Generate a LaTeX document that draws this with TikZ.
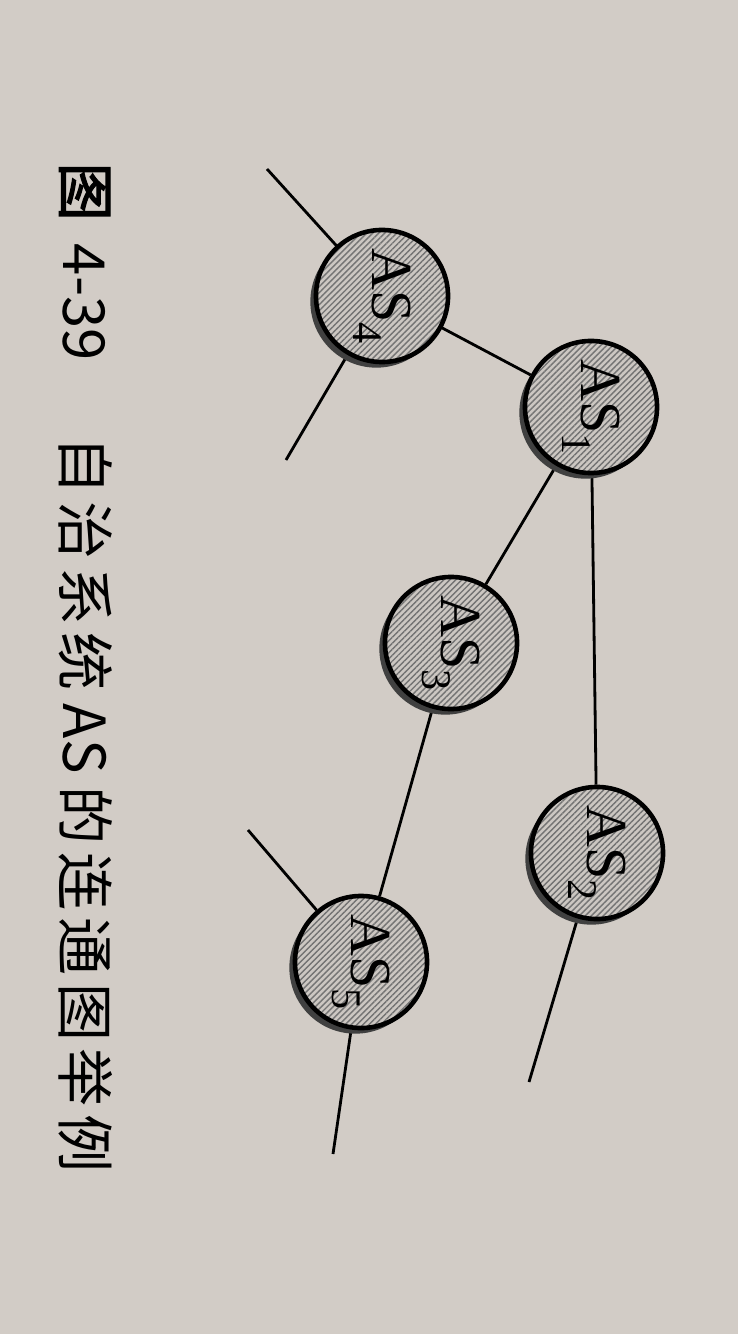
\documentclass[tikz,border=0pt]{standalone}
\usepackage{fontspec}
\setmainfont{Liberation Serif}
\newfontfamily\cjk{Noto Sans CJK SC}
\newfontfamily\cjkb[FakeBold=2.2]{Noto Sans CJK SC}
\usetikzlibrary{shadows,patterns.meta}
\definecolor{paper}{RGB}{210,204,198}
\definecolor{disk}{RGB}{204,199,194}
\pgfdeclarelayer{paper}\pgfdeclarelayer{links}
\pgfsetlayers{paper,links,main}
\newcommand\aslabel[1]{\rotatebox{-90}{AS\raisebox{-0.32em}{\fontsize{12}{12}\selectfont #1}}}

\begin{document}
\begin{tikzpicture}[x=0.01cm,y=-0.01cm,
  asnode/.style={circle,draw,line width=1.3pt,minimum size=1.32cm,inner sep=0pt,
    general shadow={shadow xshift=-1.6pt,shadow yshift=-1.6pt,fill=black!75},
    preaction={fill=disk},pattern={Lines[angle=45,distance=1.2pt,line width=0.4pt]},pattern color=black!55,
    font=\fontsize{16.5}{16.5}\selectfont},
  link/.style={line width=0.8pt}]
\begin{pgfonlayer}{paper}\fill[paper] (0,0) rectangle (738,1334);\end{pgfonlayer}
\node[asnode] (as4) at (382,296) {\aslabel{4}};
\node[asnode] (as1) at (591,407) {\aslabel{1}};
\node[asnode] (as3) at (451,643) {\aslabel{3}};
\node[asnode] (as2) at (597,853) {\aslabel{2}};
\node[asnode] (as5) at (361,962) {\aslabel{5}};
\coordinate (e4a) at (267,169);\coordinate (e4b) at (286,460);
\coordinate (e5a) at (248,830);\coordinate (e5b) at (333,1154);\coordinate (e2) at (529,1082);
\begin{pgfonlayer}{links}
\draw[link] (as4)--(as1) (as1)--(as3) (as1)--(as2) (as3)--(as5);
\foreach \n/\e in {as4/e4a,as4/e4b,as5/e5a,as5/e5b,as2/e2}{\draw[link] (\n)--(\e);}
\end{pgfonlayer}
\node[font=\cjk\fontsize{16.5}{16.5}\selectfont,rotate=-90,anchor=west,inner sep=0pt] (cap) at (86,162)
  {{\cjkb 图}\hspace{0.4em}4-39\hspace{1.3em}{\addfontfeature{LetterSpace=13}自治系统} AS {\addfontfeature{LetterSpace=13}的连通图举例}};
\end{tikzpicture}
\end{document}
